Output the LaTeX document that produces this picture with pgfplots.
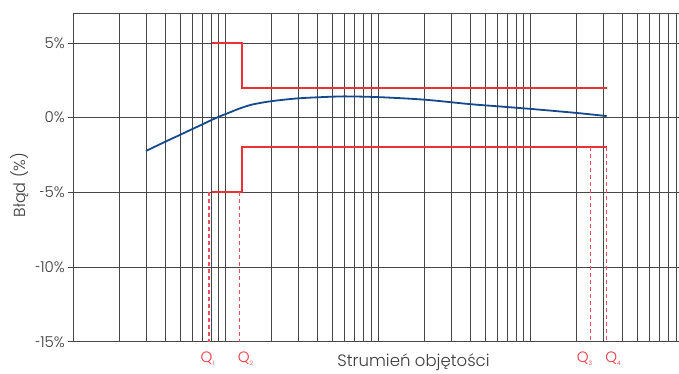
\documentclass[border=0pt]{standalone}
\usepackage{fontspec}
\setmainfont{Poppins}[UprightFont=* Light]
\usepackage{pgfplots}
\pgfplotsset{compat=1.18}
\definecolor{gridc}{RGB}{70,70,70}
\definecolor{txt}{RGB}{60,60,60}
\definecolor{redl}{RGB}{232,50,56}
\definecolor{redd}{RGB}{236,80,90}
\definecolor{bluel}{RGB}{22,72,140}
\newcommand{\hy}{\scalebox{0.6}[1]{-}}
\begin{document}
\begin{tikzpicture}[x=1pt,y=1pt]
\path[use as bounding box] (0,0) rectangle (679,373);
\begin{axis}[
  at={(73.3pt,31.3pt)}, anchor=south west,
  scale only axis, width=607.7pt, height=328.7pt,
  xmode=log, log basis x=10,
  xmin=1, xmax=9660, ymin=-15, ymax=7,
  xtick={1,10,100,1000},
  minor xtick={2,3,4,5,6,7,8,9,20,30,40,50,60,70,80,90,200,300,400,500,600,700,800,900,2000,3000,4000,5000,6000,7000,8000,9000},
  xticklabels={},
  grid=both,
  major grid style={gridc, line width=0.7pt},
  minor grid style={gridc, line width=0.7pt},
  ytick={-15,-10,-5,0,5},
  yticklabels={\hy15\%,\hy10\%,\hy5\%,0\%,5\%},
  ytick pos=left,
  x tick style={draw=none},
  y tick style={gridc, line width=0.7pt},
  tick align=outside, major tick length=5pt,
  axis line style={gridc, line width=0.8pt},
  clip=false,
  ticklabel style={font=\fontsize{15}{18}\selectfont, text=txt},
]
\addplot[bluel, line width=1.8pt, smooth] coordinates {
(3,-2.23) (4,-1.62) (5,-1.16) (6,-0.78) (7,-0.46) (8,-0.18) (9,0.06) (10,0.24) (12.4,0.62) (15,0.88) (20,1.1) (30,1.29) (50,1.4) (60,1.42) (100,1.37) (200,1.2) (400,0.9) (600,0.76) (1000,0.58) (2000,0.31) (3145,0.1)};
\addplot[redl, line width=2pt] coordinates {(8.16,5) (12.83,5) (12.83,2) (3145,2)};
\addplot[redl, line width=2pt] coordinates {(8.16,-5) (12.83,-5) (12.83,-2) (3145,-2)};
\addplot[redd, line width=1.1pt, dash pattern=on 4pt off 3pt] coordinates {(7.76,-5) (7.76,-15)};
\addplot[redd, line width=0.9pt, dash pattern=on 4pt off 3pt] coordinates {(12.26,-5) (12.26,-15)};
\addplot[redd, line width=0.9pt, dash pattern=on 4pt off 3pt] coordinates {(2471,-2) (2471,-15)};
\addplot[redd, line width=1.1pt, dash pattern=on 4pt off 3pt] coordinates {(3145,-2) (3145,-15)};
\end{axis}
\node[text=txt, font=\fontsize{16}{19}\selectfont, rotate=90] at (20,188) {Błąd (\%)};
\node[text=txt, font=\fontsize{16.5}{19}\selectfont, anchor=base] at (413.5,6.5) {Strumień objętości};
\foreach \xx/\n in {207.5/1,245.5/2,584.5/3,613/4}{
  \node[text=redl, font=\fontsize{15}{18}\selectfont, anchor=base, inner sep=0pt] at (\xx,10.5) {Q\raisebox{-2.5pt}{\fontsize{6}{6}\selectfont\n}};
}
\end{tikzpicture}
\end{document}
